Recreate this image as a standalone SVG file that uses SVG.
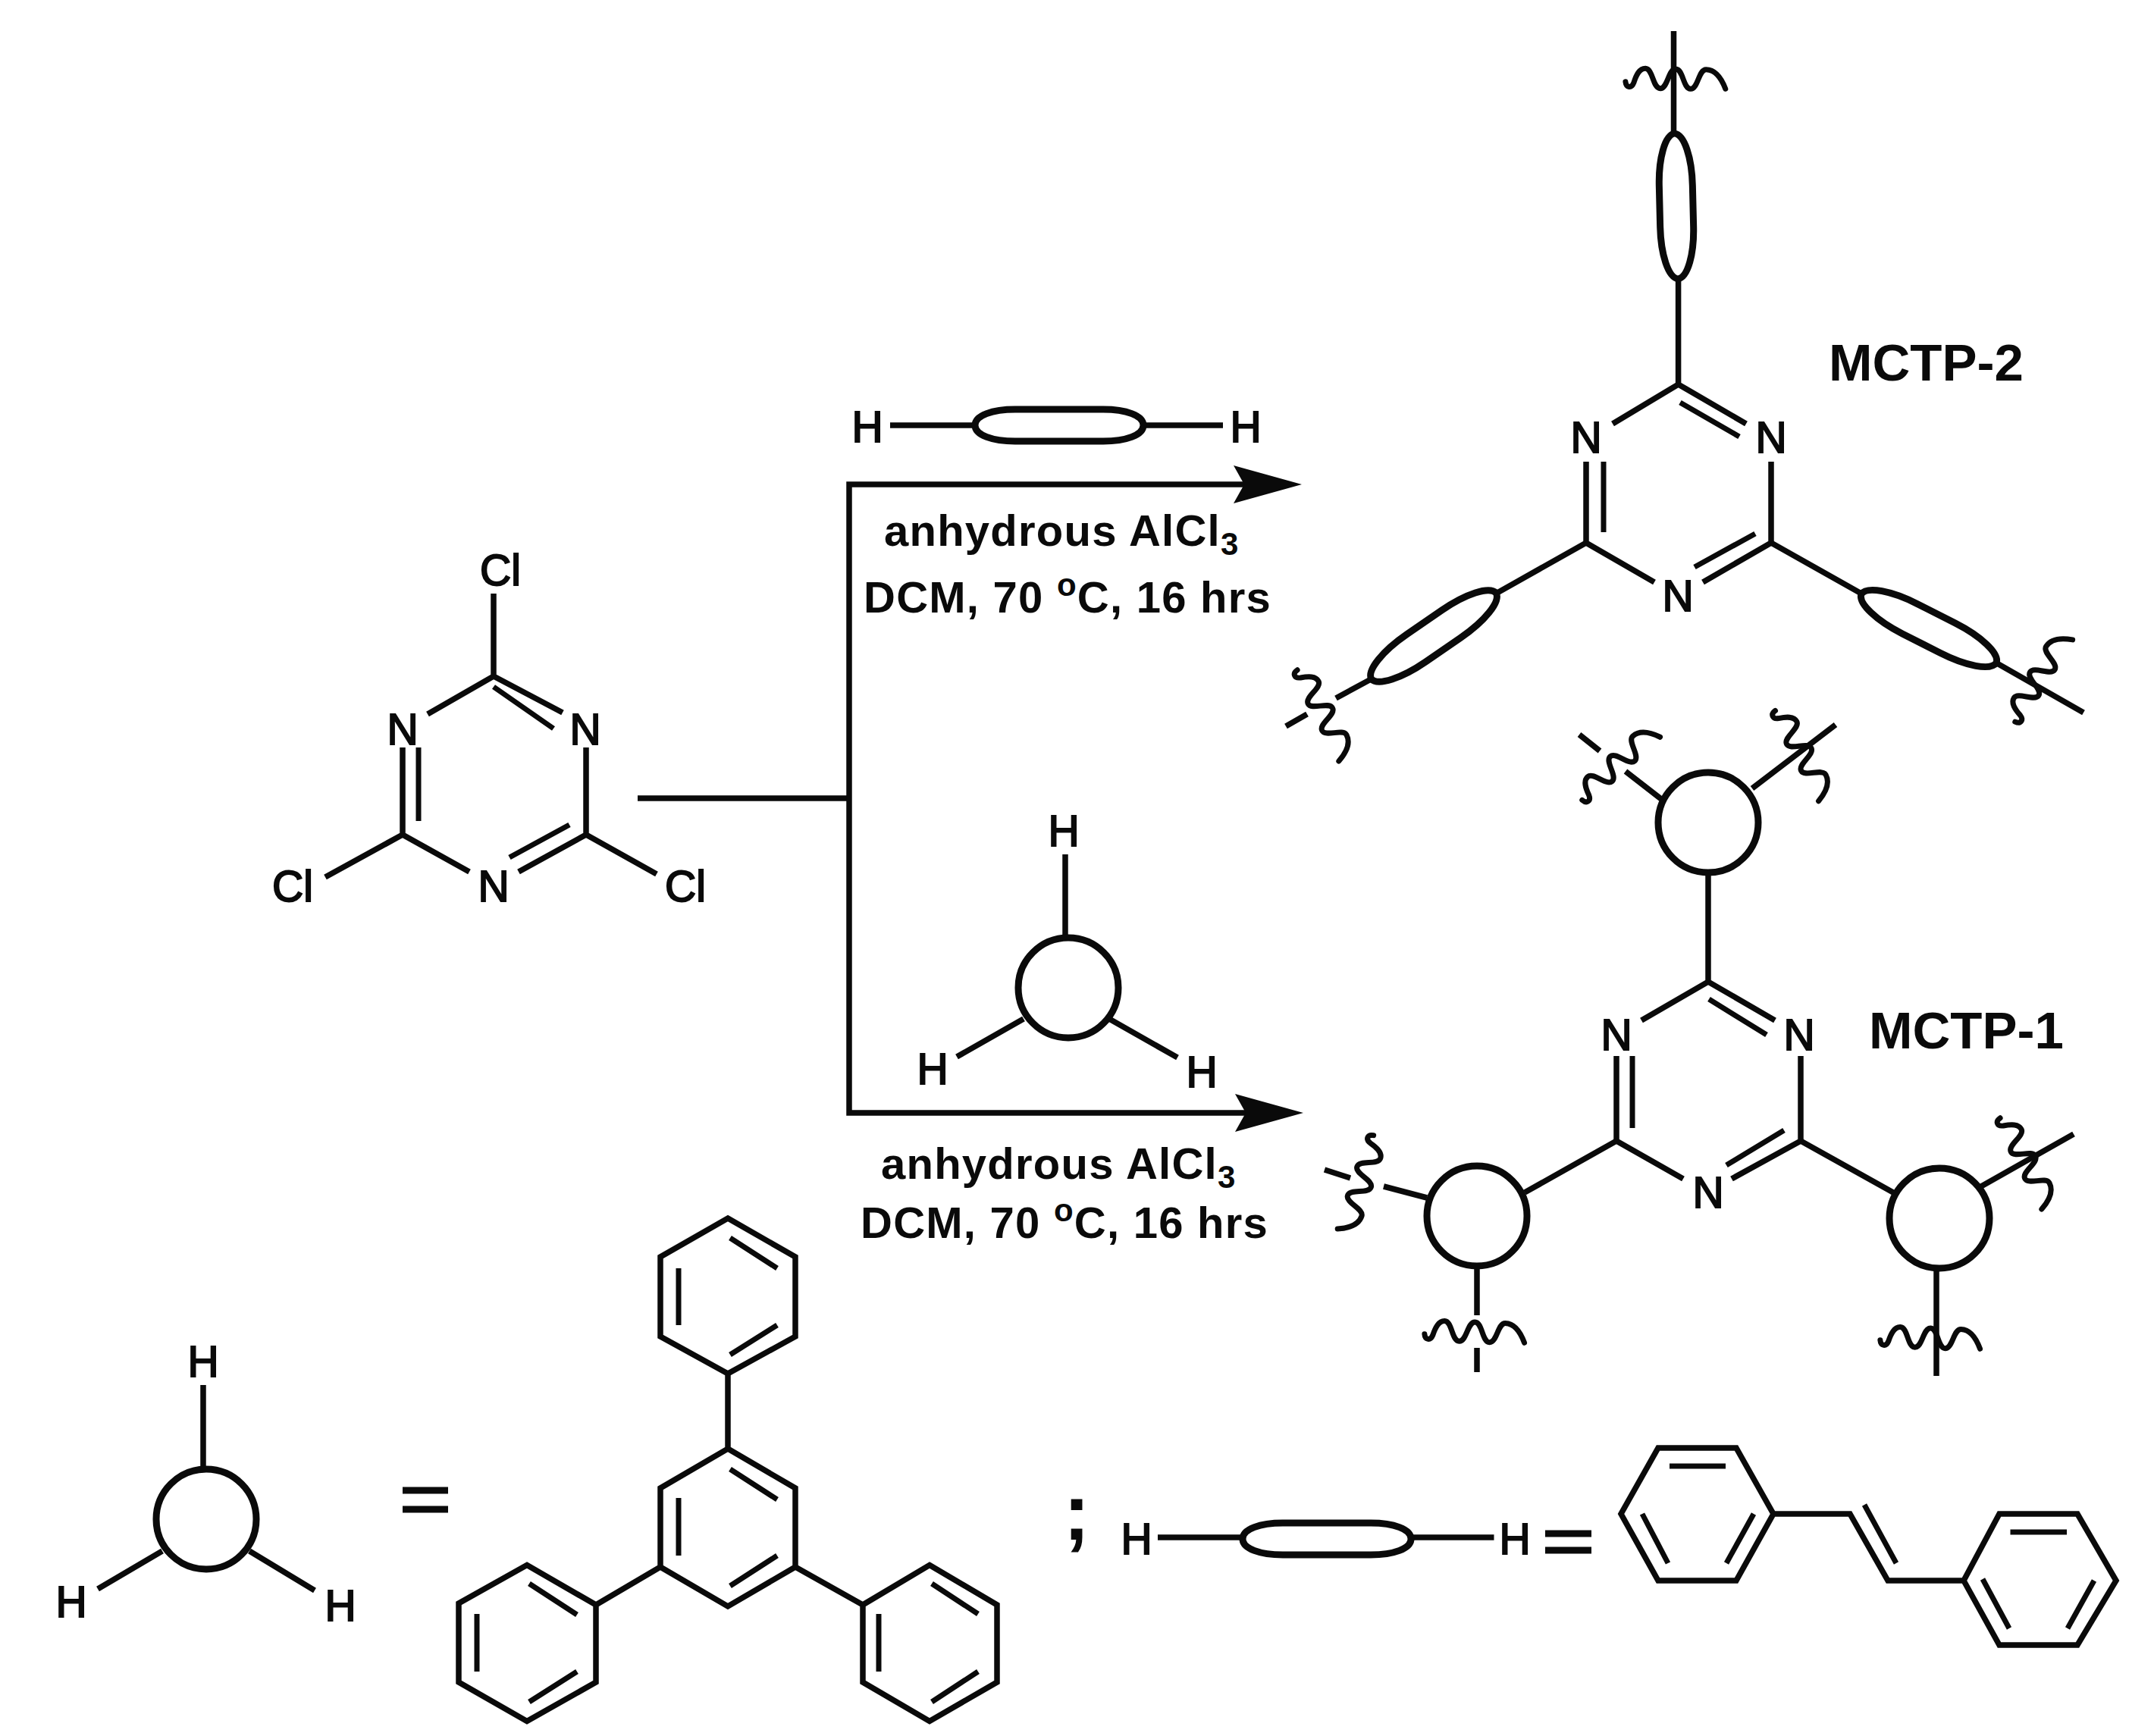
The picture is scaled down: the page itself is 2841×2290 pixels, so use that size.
<svg xmlns="http://www.w3.org/2000/svg" width="2841" height="2290" viewBox="0 0 2841 2290">
<style>
.b{fill:none;stroke:#0a0a0a;stroke-width:7.5;stroke-linecap:butt;stroke-linejoin:miter}
.i{fill:none;stroke:#0a0a0a;stroke-width:7}
.o{fill:none;stroke:#0a0a0a;stroke-width:9}
.w{fill:none;stroke:#0a0a0a;stroke-width:7;stroke-linecap:round}
text{font-family:"Liberation Sans",Arial,sans-serif;fill:#0a0a0a}
.l{font-size:57px;text-anchor:middle;stroke:#0a0a0a;stroke-width:2}
.t{font-size:69px;font-weight:700}
.r{font-size:58px;font-weight:700;letter-spacing:1.25px}
.s{font-size:42px}
</style>
<defs>
<marker id="head" markerUnits="userSpaceOnUse" markerWidth="90" markerHeight="50" viewBox="0 0 90 50" refX="14" refY="25" orient="auto"><path d="M0,0L90,25L0,50L14,25Z" fill="#0a0a0a"/></marker>
<path id="wave" d="M-66,5C-65,13 -58,14 -55,6C-52,-4 -48,-13 -40,-13C-30,-13 -30,13 -20,13C-10,13 -10,-13 0,-13C10,-13 10,13 20,13C30,13 30,-13 40,-13C48,-13 58,-8 66,12"/>
<path id="pill100" d="M-100,0C-98,-13 -66,-22 -28,-22L28,-22C66,-22 98,-13 100,0C98,13 66,22 28,22L-28,22C-66,22 -98,13 -100,0Z"/>
<path id="pill111" d="M-111,0C-111,-13 -88,-21 -58,-21L58,-21C88,-21 111,-13 111,0C111,13 88,21 58,21L-58,21C-88,21 -111,13 -111,0Z"/>
</defs>
<rect width="2841" height="2290" fill="#fff"/>

<g id="connectors">
<path class="b" d="M841,1053H1120"/>
<path class="b" d="M1120,1053V639H1641" marker-end="url(#head)"/>
<path class="b" d="M1120,1053V1468H1643" marker-end="url(#head)"/>
</g>

<g id="cyanuric-chloride">
<path class="b" d="M564,942L651,892L742,940M531,986V1101L619,1150M773,986V1101L684,1150M651,783V892M531,1101L429,1157M773,1101L866,1153"/>
<path class="i" d="M651,906L730,961M552,986V1083M751,1088L672,1131"/>
<text class="l" x="660" y="772">Cl</text>
<text class="l" x="531" y="982">N</text>
<text class="l" x="772" y="982">N</text>
<text class="l" x="651" y="1189">N</text>
<text class="l" x="386" y="1189">Cl</text>
<text class="l" x="904" y="1189">Cl</text>
</g>

<g id="linear-linker">
<path class="b" d="M1174,561H1284M1506,561H1613"/>
<use href="#pill111" class="o" x="1397" y="561"/>
<text class="l" x="1144" y="583">H</text>
<text class="l" x="1643" y="583">H</text>
</g>

<g id="reagents-top">
<text class="r" x="1166" y="720">anhydrous AlCl<tspan class="s" dy="12">3</tspan></text>
<text class="r" x="1139" y="808">DCM, 70 <tspan class="s" dy="-22">o</tspan><tspan dy="22">C, 16 hrs</tspan></text>
</g>

<g id="trigonal-linker">
<path class="b" d="M1405,1127V1238M1262,1394L1350,1344M1553,1395L1463,1344"/>
<circle class="o" cx="1409" cy="1303" r="66"/>
<text class="l" x="1403" y="1116">H</text>
<text class="l" x="1230" y="1430">H</text>
<text class="l" x="1585" y="1434">H</text>
</g>

<g id="reagents-bottom">
<text class="r" x="1162" y="1555">anhydrous AlCl<tspan class="s" dy="12">3</tspan></text>
<text class="r" x="1135" y="1633">DCM, 70 <tspan class="s" dy="-22">o</tspan><tspan dy="22">C, 16 hrs</tspan></text>
</g>

<g id="mctp-2">
<path class="b" d="M2207.5,41V176M2213.6,368V507M2127,559L2213.6,507L2303,559M2092,609V716L2182,768M2336,609V716L2246,768"/>
<path class="i" d="M2216,531L2294,576M2115,609V702M2315,704L2235,748"/>
<path class="b" d="M2092,716L1973,783M1810,895L1762,921M1724,942L1696,958M2336,716L2455,783M2634,875L2748,940"/>
<use href="#pill100" class="o" transform="translate(2211,272) rotate(88.6) scale(.96,1)"/>
<use href="#pill100" class="o" transform="translate(1891,839) rotate(-34.5)"/>
<use href="#pill100" class="o" transform="translate(2544,829) rotate(27)"/>
<use href="#wave" class="w" transform="translate(2210,104) rotate(1)"/>
<use href="#wave" class="w" transform="translate(1746,940) rotate(62.5)"/>
<use href="#wave" class="w" transform="translate(2688.5,893.5) rotate(-58)"/>
<text class="l" x="2092" y="597">N</text>
<text class="l" x="2336" y="597">N</text>
<text class="l" x="2213" y="806">N</text>
<text class="t" x="2412" y="502">MCTP-2</text>
</g>

<g id="mctp-1">
<path class="b" d="M2253,1151V1295M2165,1346L2253,1295L2341,1346M2132,1393V1505L2220,1555M2375,1393V1505L2284,1555"/>
<path class="i" d="M2254,1318L2330,1365M2153,1393V1488M2353,1491L2277,1537"/>
<path class="b" d="M2132,1505L2011,1573M2375,1505L2497,1573"/>
<path class="b" d="M2191,1054L2144,1017.5M2110,990.5L2083,969M2311,1040L2421,956M1882,1580L1825,1565M1781,1554L1747,1543M1948,1670V1735M1948,1778V1810M2613,1565L2735,1496M2554,1674V1815"/>
<circle class="o" cx="2253" cy="1085" r="66"/>
<circle class="o" cx="1948" cy="1604" r="66"/>
<circle class="o" cx="2558" cy="1607" r="66"/>
<use href="#wave" class="w" transform="translate(2132.5,1007.5) rotate(-42)"/>
<use href="#wave" class="w" transform="translate(2377.5,993) rotate(61.4)"/>
<use href="#wave" class="w" transform="translate(1796,1562) rotate(108)"/>
<use href="#wave" class="w" transform="translate(1945,1757) rotate(2)"/>
<use href="#wave" class="w" transform="translate(2673,1531) rotate(62.5)"/>
<use href="#wave" class="w" transform="translate(2546,1765) rotate(2)"/>
<text class="l" x="2132" y="1385">N</text>
<text class="l" x="2373" y="1385">N</text>
<text class="l" x="2253" y="1593">N</text>
<text class="t" x="2465" y="1383">MCTP-1</text>
</g>

<g id="legend-trigonal">
<path class="b" d="M268,1827V1938M129,2096L214,2046M415,2098L329,2046"/>
<circle class="o" cx="272" cy="2004" r="66"/>
<text class="l" x="268" y="1816">H</text>
<text class="l" x="94" y="2133">H</text>
<text class="l" x="449" y="2138">H</text>
<path class="o" d="M531,1966H591M531,1991H591"/>
</g>

<g id="triphenylbenzene">
<path class="b" d="M960,1607L1049,1658V1763L960,1812L871,1763V1658ZM960,1812V1911M960,1911L1049,1963V2067L960,2119L871,2067V1963ZM871,2067L786,2117M1049,2067L1138,2117M695,2064.5L786,2117V2219L695,2270.5L605,2219V2115ZM1226,2064.5L1315,2117V2219L1226,2270.5L1138,2219V2117Z"/>
<path class="i" d="M963,1633L1025,1673M895,1673V1748M1025,1748L963,1787M963,1938L1025,1978M895,1976V2052M1025,2052L963,2092M698,2089L761,2130M629,2129V2205M761,2205L698,2245M1229,2089L1290,2129M1159,2129V2205M1290,2205L1229,2245"/>
</g>

<text x="1420" y="2031" style="font-size:105px;font-weight:700;text-anchor:middle">;</text>

<g id="legend-linear">
<path class="b" d="M1527,2028H1638M1859,2028H1970.5"/>
<use href="#pill111" class="o" transform="translate(1750,2030)"/>
<text class="l" x="1499" y="2050">H</text>
<text class="l" x="1998" y="2050">H</text>
<path class="o" d="M2038,2023H2099M2038,2045H2099"/>
</g>

<g id="stilbene">
<path class="b" d="M2187,1910H2290L2339,1997L2290,2085H2187L2138,1997ZM2339,1997H2440L2490,2085H2590M2590,2085L2637,1997H2740L2791,2085L2740,2170H2637Z"/>
<path class="i" d="M2202,1934H2276M2166,1997L2200,2062M2313,1997L2277,2062M2459,1985L2501,2062M2651.5,2021H2726M2615,2083L2650,2148M2762,2085L2727,2148"/>
</g>
</svg>
